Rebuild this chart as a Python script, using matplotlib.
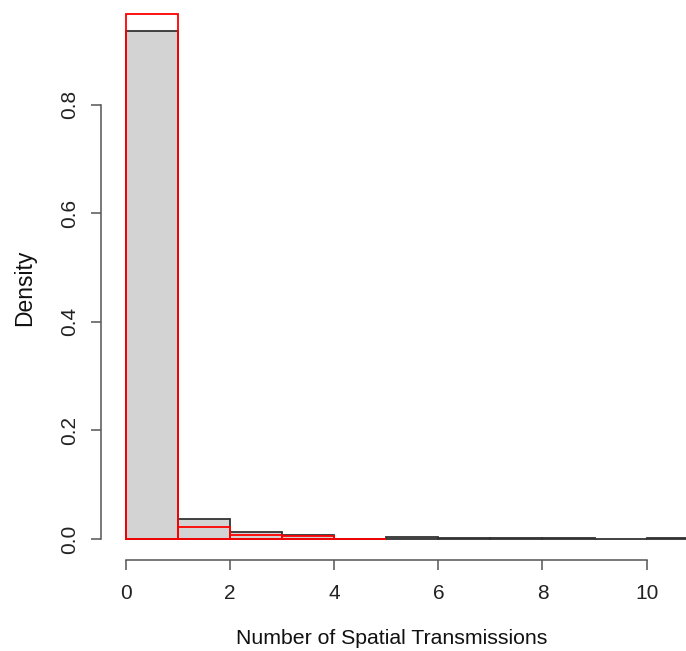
import matplotlib
matplotlib.use("Agg")
import matplotlib.pyplot as plt
import numpy as np

# Bin edges (number of spatial transmissions)
grey_edges = [0, 1, 2, 3, 4, 5, 6, 7, 8, 9, 10, 11, 12]
# Observed densities (grey bars)
grey_density = [0.936, 0.037, 0.013, 0.008, 0.0, 0.004, 0.002, 0.001, 0.001, 0.0005, 0.001, 0.001]
# Comparison densities (red outline bars)
red_edges = [0, 1, 2, 3, 4, 5]
red_density = [0.967, 0.0215, 0.0074, 0.0046, 0.0005]
x_ticks = [0, 2, 4, 6, 8, 10]
y_ticks = [0.0, 0.2, 0.4, 0.6, 0.8]
x_label = "Number of Spatial Transmissions"
y_label = "Density"

plt.rcParams['font.family'] = ['Liberation Sans', 'DejaVu Sans']

W, H = 686, 651
fig = plt.figure(figsize=(W / 100, H / 100), dpi=100)
px_per_unit = 52.06
x0_px = 126
left_px = 101
xmin = -(x0_px - left_px) / px_per_unit
xmax = 12.0
right_px = x0_px + xmax * px_per_unit
bottom_px, top_px = 560, -7
ax = fig.add_axes([left_px / W, (H - bottom_px) / H,
                   (right_px - left_px) / W, (bottom_px - top_px) / H])

ge = np.array(grey_edges, dtype=float)
ax.bar(ge[:-1], grey_density, width=np.diff(ge), align='edge',
       color='#d3d3d3', edgecolor='#333333', linewidth=1.3, zorder=2)
re = np.array(red_edges, dtype=float)
ax.bar(re[:-1], red_density, width=np.diff(re), align='edge',
       fill=False, edgecolor='#ff0000', linewidth=1.3, zorder=3)

ax.set_xlim(xmin, xmax)
ax.set_ylim(-0.0387, 1.006)

for s in ['top', 'right']:
    ax.spines[s].set_visible(False)
ax.spines['left'].set_bounds(0, 0.8)
ax.spines['bottom'].set_bounds(0, 10)
for s in ['left', 'bottom']:
    ax.spines[s].set_color('#555555')
    ax.spines[s].set_linewidth(1.1)

ax.set_xticks(x_ticks)
ax.set_xticklabels([str(t) for t in x_ticks])
ax.set_yticks(y_ticks)
ax.set_yticklabels([f"{t:.1f}" for t in y_ticks], rotation=90, va='center')
ax.tick_params(axis='both', direction='out', length=7.5, width=1.1,
               color='#555555', labelsize=15, labelcolor='#222222')
ax.tick_params(axis='x', pad=10)
ax.tick_params(axis='y', pad=8)

fig.text(392 / W, 1 - 638 / H, x_label, ha='center', va='center',
         fontsize=15.3, color='#111111')
fig.text(25 / W, 1 - 288 / H, y_label, ha='center', va='center',
         rotation=90, fontsize=16.5, color='#111111')

fig.savefig("out.png", dpi=100)
